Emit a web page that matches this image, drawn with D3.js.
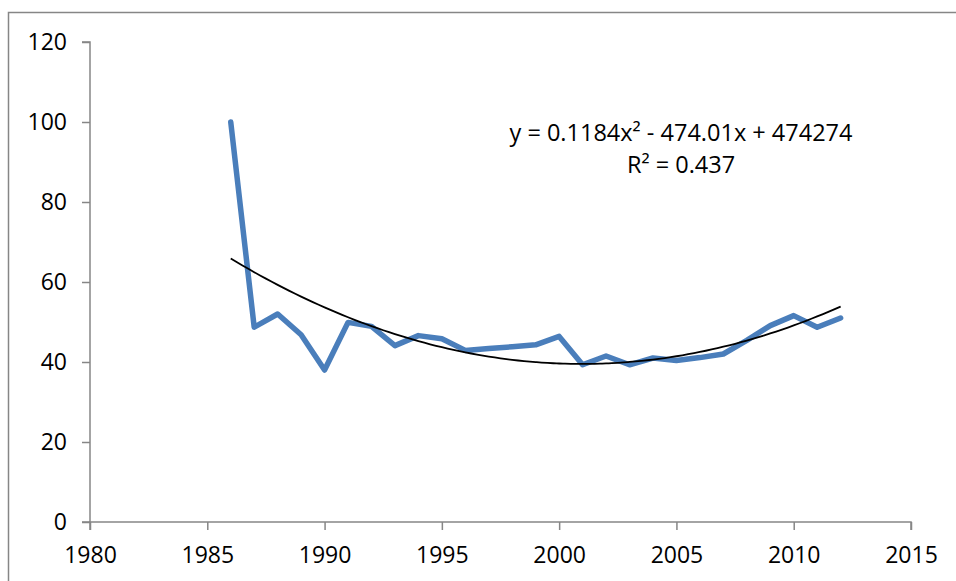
<!DOCTYPE html>
<html>
<head>
<meta charset="utf-8">
<script src="https://cdnjs.cloudflare.com/ajax/libs/d3/7.8.5/d3.min.js"></script>
<style>
  html, body { margin: 0; padding: 0; background: #fff; }
  svg { display: block; }
  text { font-family: "Open Sans", "Noto Sans", sans-serif; fill: #000; }
</style>
</head>
<body>
<svg id="chart" width="956" height="581"></svg>
<script>
// ---- data ----
const years = [1986, 1987, 1988, 1989, 1990, 1991, 1992, 1993, 1994, 1995, 1996, 1997, 1998, 1999,
               2000, 2001, 2002, 2003, 2004, 2005, 2006, 2007, 2008, 2009, 2010, 2011, 2012];
const values = [100, 48.7, 52.0, 46.8, 38.0, 49.9, 48.9, 44.1, 46.6, 45.8, 42.9, 43.4, 43.8, 44.3,
                46.4, 39.3, 41.5, 39.3, 41.0, 40.4, 41.1, 42.0, 45.4, 49.1, 51.6, 48.7, 51.0];
const xTicks = [1980, 1985, 1990, 1995, 2000, 2005, 2010, 2015];
const yTicks = [0, 20, 40, 60, 80, 100, 120];
const equationLines = ["y = 0.1184x² - 474.01x + 474274", "R² = 0.437"];

// ---- layout ----
const svg = d3.select("#chart");
const x = d3.scaleLinear().domain([1980, 2015]).range([90, 911]);
const y = d3.scaleLinear().domain([0, 120]).range([522, 42]);
const axisColor = "#868686";

// chart frame
svg.append("rect").attr("x", 8.5).attr("y", 12.5).attr("width", 1000).attr("height", 1000)
  .attr("fill", "none").attr("stroke", axisColor).attr("stroke-width", 1.5);

// y axis
const yAxis = svg.append("g").attr("transform", `translate(${x(1980)},0)`)
  .call(d3.axisLeft(y).tickValues(yTicks).tickSize(8).tickPadding(15).tickFormat(d3.format("d")));
// x axis
const xAxis = svg.append("g").attr("transform", `translate(0,${y(0)})`)
  .call(d3.axisBottom(x).tickValues(xTicks).tickSize(8).tickPadding(17).tickFormat(d3.format("d")));

[yAxis, xAxis].forEach(g => {
  g.selectAll("path.domain").attr("stroke", axisColor).attr("stroke-width", 1.5);
  g.selectAll(".tick line").attr("stroke", axisColor).attr("stroke-width", 1.5);
  g.selectAll(".tick text").attr("font-size", 23).attr("font-family", "'Open Sans', sans-serif").attr("fill", "#000");
});
xAxis.selectAll("path.domain").attr("d", `M${x(1980)},8V0H${x(2015)}V8`);
yAxis.selectAll("path.domain").attr("d", `M-8,${y(120)}H0V${y(0)}H-8`);

// data series
const pts = years.map((yr, i) => [yr, values[i]]);
svg.append("path").datum(pts)
  .attr("fill", "none").attr("stroke", "#4a7ebb").attr("stroke-width", 5.5)
  .attr("stroke-linejoin", "round").attr("stroke-linecap", "round")
  .attr("d", d3.line().x(d => x(d[0])).y(d => y(d[1])));

// polynomial (order 2) least squares trend computed from the data
const xm = d3.mean(years);
const S = [[0,0,0],[0,0,0],[0,0,0]], B = [0,0,0];
pts.forEach(([a, b]) => {
  const t = a - xm, p = [1, t, t*t];
  for (let i = 0; i < 3; i++) { B[i] += p[i]*b; for (let j = 0; j < 3; j++) S[i][j] += p[i]*p[j]; }
});
function solve(A, b) {
  const n = b.length, M = A.map((r, i) => [...r, b[i]]);
  for (let i = 0; i < n; i++) {
    let m = i; for (let k = i+1; k < n; k++) if (Math.abs(M[k][i]) > Math.abs(M[m][i])) m = k;
    [M[i], M[m]] = [M[m], M[i]];
    for (let k = i+1; k < n; k++) { const f = M[k][i]/M[i][i]; for (let j = i; j <= n; j++) M[k][j] -= f*M[i][j]; }
  }
  const r = new Array(n).fill(0);
  for (let i = n-1; i >= 0; i--) { let s = M[i][n]; for (let j = i+1; j < n; j++) s -= M[i][j]*r[j]; r[i] = s/M[i][i]; }
  return r;
}
const c = solve(S, B);
const trend = d3.range(years[0], years[years.length-1] + 0.001, 0.25).map(t => [t, c[0] + c[1]*(t-xm) + c[2]*(t-xm)*(t-xm)]);
svg.append("path").datum(trend)
  .attr("fill", "none").attr("stroke", "#000").attr("stroke-width", 1.8)
  .attr("d", d3.line().x(d => x(d[0])).y(d => y(d[1])).curve(d3.curveMonotoneX));

// equation label
svg.append("g").selectAll("text").data(equationLines).join("text")
  .attr("x", 681).attr("y", (d, i) => 141 + i*32)
  .attr("text-anchor", "middle").attr("font-size", 23.5)
  .text(d => d);
</script>
</body>
</html>
